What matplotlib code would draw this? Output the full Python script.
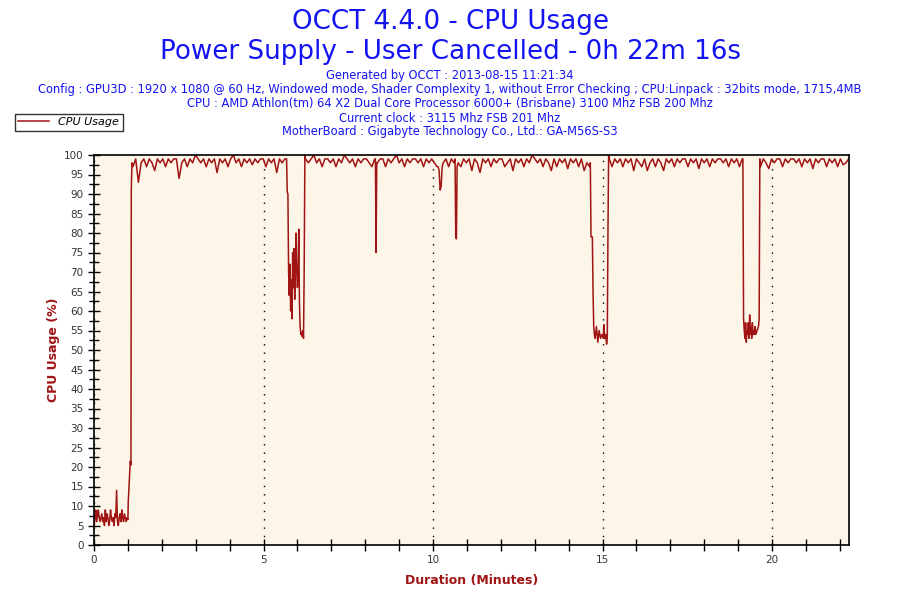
import numpy as np
import matplotlib.pyplot as plt
from matplotlib.ticker import MultipleLocator

# texts
title1 = "OCCT 4.4.0 - CPU Usage"
title2 = "Power Supply - User Cancelled - 0h 22m 16s"
info = [
    "Generated by OCCT : 2013-08-15 11:21:34",
    "Config : GPU3D : 1920 x 1080 @ 60 Hz, Windowed mode, Shader Complexity 1, without Error Checking ; CPU:Linpack : 32bits mode, 1715,4MB",
    "CPU : AMD Athlon(tm) 64 X2 Dual Core Processor 6000+ (Brisbane) 3100 Mhz FSB 200 Mhz",
    "Current clock : 3115 Mhz FSB 201 Mhz",
    "MotherBoard : Gigabyte Technology Co., Ltd.: GA-M56S-S3",
]

# idle at start (0 -> 1.0 min)
idle_vals = [4, 7, 9, 6, 8, 9, 7, 6, 7, 8, 6, 7, 5, 9, 6, 8, 7, 5, 6, 9,
             7, 6, 7, 5, 8, 7, 14, 6, 5, 7, 8, 6, 9, 7, 6, 8, 7, 6, 7, 6.5]

# plateaus under load: (start, end, values)
plateau_b = (1.15, 5.63, [97, 99, 93, 98, 99, 97, 99, 98, 96, 99, 98, 99, 97, 99, 98, 99, 99, 94, 98, 99,
                          97, 99, 98, 100, 99, 98, 99, 97, 99, 98, 99, 95.5, 99, 98, 99, 97, 99, 100, 98, 99,
                          97, 99, 98, 99, 97.5, 99, 98, 99, 99, 97, 99, 98, 99, 95.5, 99, 98, 99])
plateau_c1 = (6.24, 8.28, [99, 98, 99, 100, 98, 99, 97, 99, 99, 98, 99, 97, 99, 98, 100, 99, 98, 99, 97, 99,
                           98, 99, 99, 98, 97, 99])
plateau_c2 = (8.36, 10.12, [98, 99, 99, 97, 99, 98, 99, 100, 98, 99, 97, 99, 98, 99, 99, 98, 99, 97, 99, 98,
                            99, 98, 97])
plateau_c3 = (10.30, 10.62, [98, 99, 97, 99, 98])
plateau_c4 = (10.74, 14.62, [98, 97, 99, 98, 99, 96, 99, 98, 95.5, 99, 98, 99, 97, 99, 98, 99, 99, 97, 98, 99,
                             96, 99, 98, 99, 97, 99, 98, 100, 99, 98, 99, 97, 99, 98, 96, 99, 97, 99, 98, 99,
                             96.5, 99, 98, 99, 97, 99, 96, 98, 97])
plateau_d = (15.20, 19.12, [99, 97, 99, 98, 99, 97, 99, 98, 99, 96, 99, 98, 97, 99, 96, 98, 99, 97, 99, 98,
                            96, 99, 98, 99, 97, 99, 98, 99, 99, 97, 99, 98, 99, 96.5, 99, 98, 99, 97, 99, 98,
                            99, 99, 98, 99, 97, 99, 98, 99, 97, 99])
plateau_e = (19.66, 22.26, [97, 99, 98, 96.5, 99, 98, 99, 99, 97, 99, 98, 99, 99, 98, 99, 97, 99, 98, 99, 96.5,
                            99, 98, 99, 99, 97, 99, 98, 99, 97, 99, 97.5, 98, 99])

# transitions / dips: explicit minutes and values
rise_t = [1.01, 1.04, 1.07, 1.09, 1.10, 1.12]
rise_v = [11, 16, 21.5, 20.5, 91, 98]
dip1_t = [5.68, 5.70, 5.72, 5.74, 5.76, 5.78, 5.80, 5.82, 5.84, 5.86, 5.88, 5.90, 5.92, 5.94, 5.96,
          5.98, 6.00, 6.02, 6.04, 6.06, 6.08, 6.10, 6.12, 6.14, 6.16, 6.18, 6.20, 6.22]
dip1_v = [99, 90.5, 90, 70, 64, 72, 60, 68, 58, 75, 66, 76, 63, 73, 80,
          70, 66, 69, 81, 62, 56, 54, 54.5, 53.5, 55, 53, 71, 100]
dip2_t = [8.30, 8.32, 8.34]
dip2_v = [99, 75, 98]
dip3_t = [10.15, 10.18, 10.21, 10.24, 10.27]
dip3_v = [97, 96, 91, 92, 97]
dip4_t = [10.65, 10.67, 10.69, 10.71]
dip4_v = [99, 79, 78.5, 97]
dip5_t = [14.64, 14.66, 14.70, 14.72, 14.74, 14.76, 14.78, 14.82, 14.86, 14.90, 14.94, 14.98, 15.02,
          15.04, 15.06, 15.09, 15.12, 15.14, 15.16, 15.18]
dip5_v = [98, 79, 79, 65, 56, 54, 53, 56, 52, 55, 53, 54, 53, 56.5, 53, 54, 51.5, 53, 80, 100]
dip6_t = [19.14, 19.16, 19.18, 19.20, 19.22, 19.24, 19.26, 19.28, 19.30, 19.32, 19.34, 19.36, 19.38,
          19.40, 19.42, 19.44, 19.46, 19.48, 19.50, 19.52, 19.56, 19.60, 19.62, 19.64]
dip6_v = [99, 58, 55, 53, 57, 52, 55, 54, 57, 53, 59, 54, 56, 53, 57, 54, 55, 54, 56, 54, 55, 56, 58, 99]


def seg(p):
    return list(np.linspace(p[0], p[1], len(p[2]))), list(p[2])


parts = [
    (list(np.linspace(0.0, 1.0, len(idle_vals))), idle_vals),
    (rise_t, rise_v), seg(plateau_b), (dip1_t, dip1_v), seg(plateau_c1), (dip2_t, dip2_v),
    seg(plateau_c2), (dip3_t, dip3_v), seg(plateau_c3), (dip4_t, dip4_v), seg(plateau_c4),
    (dip5_t, dip5_v), seg(plateau_d), (dip6_t, dip6_v), seg(plateau_e),
]
t = []
v = []
for pt, pv in parts:
    t += pt
    v += pv

blue = "#1414F0"
red = "#A01414"

fig = plt.figure(figsize=(9, 6), dpi=100)
fig.text(0.5, 1 - 22 / 600, title1, ha="center", va="center", color=blue, fontsize=18.8)
fig.text(0.5, 1 - 52 / 600, title2, ha="center", va="center", color=blue, fontsize=18.8)
for i, line in enumerate(info):
    fig.text(0.5, 1 - (76 + 14 * i) / 600, line, ha="center", va="center", color=blue, fontsize=8.3)

ax = fig.add_axes([94 / 900, 55 / 600, 755 / 900, 390 / 600])
ax.set_facecolor("#FDF6E8")
ax.plot(t, v, color=red, linewidth=1.1, label="CPU Usage")

ax.set_xlim(0, 22.27)
ax.set_ylim(0, 100)
ax.xaxis.set_major_locator(MultipleLocator(5))
ax.xaxis.set_minor_locator(MultipleLocator(1))
ax.yaxis.set_major_locator(MultipleLocator(5))
ax.yaxis.set_minor_locator(MultipleLocator(2.5))
ax.tick_params(which="major", direction="inout", length=8, width=1, labelsize=7.5, labelcolor="#333333")
ax.tick_params(which="minor", direction="inout", length=7, width=1)
ax.tick_params(axis="x", which="minor", length=8)
ax.grid(axis="x", which="major", color="black", linestyle=(0, (1, 5)), linewidth=1)

for s in ax.spines.values():
    s.set_linewidth(1.2)

ax.set_xlabel("Duration (Minutes)", color=red, fontweight="bold", fontsize=9, labelpad=6)
ax.set_ylabel("CPU Usage (%)", color=red, fontweight="bold", fontsize=9, labelpad=3)

leg = fig.legend(loc="upper left", bbox_to_anchor=(15 / 900, 1 - 114 / 600), borderaxespad=0,
                 frameon=True, fancybox=False, handlelength=2.8, borderpad=0.3,
                 prop={"style": "italic", "size": 8})
leg.get_frame().set_edgecolor("black")
leg.get_frame().set_linewidth(1)

plt.savefig("out.png", dpi=100)
